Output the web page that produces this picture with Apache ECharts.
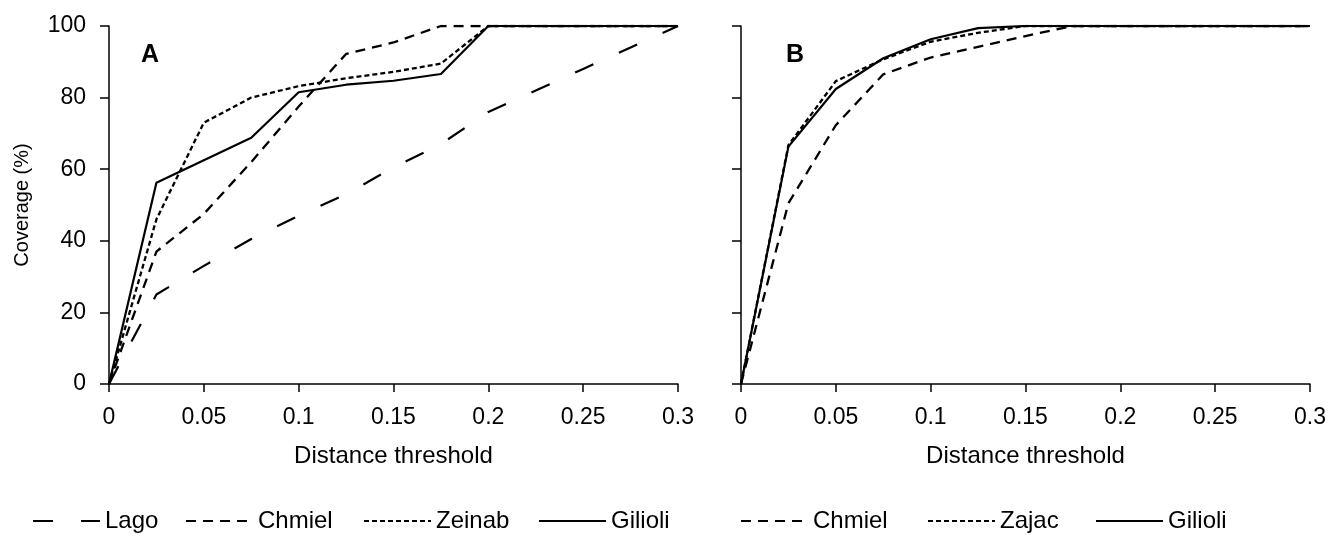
<!DOCTYPE html>
<html>
<head>
<meta charset="utf-8">
<script src="https://cdn.jsdelivr.net/npm/echarts@6/dist/echarts.min.js"></script>
<style>html,body{margin:0;padding:0;background:#fff;}#c{width:1329px;height:536px;}</style>
</head>
<body>
<div id="c"></div>
<script>
// Panel A
const thresholdsA = [0, 0.025, 0.05, 0.075, 0.1, 0.125, 0.15, 0.175, 0.2, 0.225, 0.25, 0.275, 0.3];
const lagoA    = [0, 25, 33, 40.5, 47, 53, 60.5, 67, 76, 82, 88, 94, 100];
const chmielA  = [0, 37, 47.5, 62, 77.5, 92.2, 95.4, 100, 100, 100, 100, 100, 100];
const zeinabA  = [0, 46, 73, 80, 83.2, 85.4, 87.2, 89.5, 100, 100, 100, 100, 100];
const gilioliA = [0, 56.2, 62.5, 68.8, 81.5, 83.6, 84.7, 86.6, 100, 100, 100, 100, 100];
// Panel B
const thresholdsB = [0, 0.025, 0.05, 0.075, 0.1, 0.125, 0.15, 0.175, 0.2, 0.225, 0.25, 0.275, 0.3];
const chmielB  = [0, 50.5, 72.3, 86.5, 91.2, 94.2, 97.2, 100, 100, 100, 100, 100, 100];
const zajacB   = [0, 66.7, 84.6, 90.7, 95.6, 98.1, 100, 100, 100, 100, 100, 100, 100];
const gilioliB = [0, 66.3, 82.4, 91.0, 96.3, 99.4, 100, 100, 100, 100, 100, 100, 100];
// legend entries
const legendA = ['Lago', 'Chmiel', 'Zeinab', 'Gilioli'];
const legendB = ['Chmiel', 'Zajac', 'Gilioli'];

function pairs(xs, ys){ return xs.map((x,i)=>[x, ys[i]]); }

const FONT = 'Liberation Sans, Arial, sans-serif';
const axisCol = '#000';
const styles = {
  Lago:   {type:[20,28], width:2.2},
  Chmiel: {type:[10,7], width:2.3},
  Zeinab: {type:[5,3], width:2.3},
  Zajac:  {type:[5,3], width:2.3},
  Gilioli:{type:'solid', width:2.2}
};
function mkSeries(name, data, idx){
  return {name, type:'line', xAxisIndex:idx, yAxisIndex:idx, data, symbol:'none',
    lineStyle:{color:'#000', width:styles[name].width, type:styles[name].type},
    itemStyle:{color:'#000'}, animation:false};
}
function xAxis(idx){
  return {type:'value', gridIndex:idx, min:0, max:0.3, interval:0.05,
    name:'Distance threshold', nameLocation:'middle', nameGap:60,
    nameTextStyle:{fontFamily:FONT, fontSize:24, color:'#000'},
    axisLine:{lineStyle:{color:axisCol, width:1.5}},
    axisTick:{show:true, length:8, lineStyle:{color:axisCol, width:1.5}},
    axisLabel:{fontFamily:FONT, fontSize:23, color:'#000', margin:22,
      formatter: v => String(+v.toFixed(3))},
    splitLine:{show:false}};
}
function yAxis(idx, showLabels){
  return {type:'value', gridIndex:idx, min:0, max:100, interval:20,
    name: showLabels ? 'Coverage (%)' : '', nameLocation:'middle', nameGap:77,
    nameTextStyle:{fontFamily:FONT, fontSize:20, color:'#000'},
    axisLine:{show:true, lineStyle:{color:axisCol, width:1.5}},
    axisTick:{show:true, length:9, lineStyle:{color:axisCol, width:1.5}},
    axisLabel:{show:showLabels, fontFamily:FONT, fontSize:23, color:'#000', margin:23},
    splitLine:{show:false}};
}
// one legend per entry so each can sit where the reference puts it
const legendLeftA = [32, 185, 363, 538];
const legendLeftB = [740, 927, 1095];
function mkLegend(name, left){
  return {data:[name], left, top:509, itemWidth:67, itemHeight:14, padding:0,
    itemStyle:{color:'rgba(0,0,0,0)', borderWidth:0, opacity:0},
    textStyle:{fontFamily:FONT, fontSize:24, color:'#000'}, selectedMode:false};
}
const legends = legendA.map((n,i)=>mkLegend(n, legendLeftA[i]))
  .concat(legendB.map((n,i)=>mkLegend(n, legendLeftB[i])));

const chart = echarts.init(document.getElementById('c'), null, {renderer:'canvas'});
chart.setOption({
  backgroundColor:'#fff',
  animation:false,
  title:[
    {text:'A', left:136, top:38, textStyle:{fontFamily:FONT, fontSize:25, fontWeight:'bold', color:'#000'}},
    {text:'B', left:781, top:38, textStyle:{fontFamily:FONT, fontSize:25, fontWeight:'bold', color:'#000'}}
  ],
  grid:[
    {left:109, top:26, width:569, height:358},
    {left:741, top:26, width:569, height:358}
  ],
  xAxis:[xAxis(0), xAxis(1)],
  yAxis:[yAxis(0,true), yAxis(1,false)],
  legend: legends,
  series:[
    mkSeries('Lago', pairs(thresholdsA, lagoA), 0),
    mkSeries('Chmiel', pairs(thresholdsA, chmielA), 0),
    mkSeries('Zeinab', pairs(thresholdsA, zeinabA), 0),
    mkSeries('Gilioli', pairs(thresholdsA, gilioliA), 0),
    mkSeries('Chmiel', pairs(thresholdsB, chmielB), 1),
    mkSeries('Zajac', pairs(thresholdsB, zajacB), 1),
    mkSeries('Gilioli', pairs(thresholdsB, gilioliB), 1)
  ]
});
</script>
</body>
</html>
